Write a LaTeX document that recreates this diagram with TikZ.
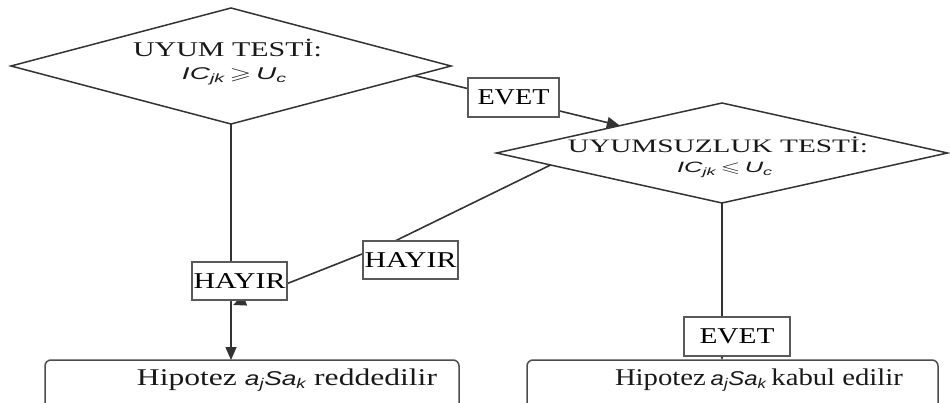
\documentclass[tikz,border=0pt]{standalone}
\usepackage{fontspec}
\usepackage{amssymb}
\usepackage{graphicx}
\setmainfont{Liberation Serif}
\setsansfont{Liberation Sans}
\usetikzlibrary{shapes.geometric,arrows.meta}
\newcommand\fitw[2]{\resizebox{#1}{\height}{#2}}
\newcommand\formtxt[2]{{\sffamily\itshape\fontsize{#1}{#1}\selectfont IC\textsubscript{jk}\,$#2$\,U\textsubscript{c}}}
\newcommand\ajsak{{\sffamily\itshape\fontsize{20}{24}\selectfont a\textsubscript{j}Sa\textsubscript{k}}}
\begin{document}
\begin{tikzpicture}[x=1pt,y=-1pt,
  ln/.style={draw=black!80, line width=1.6pt},
  arr/.style={ln, -{Triangle[length=13pt,width=11pt]}},
  dia/.style={diamond, draw=black!80, line width=1.5pt, inner sep=0pt, outer sep=0pt},
  lab/.style={rectangle, draw=black!65, line width=1.6pt, fill=white, inner sep=0pt, outer sep=0pt},
  res/.style={rectangle, rounded corners=6pt, draw=black!70, line width=1.5pt, inner sep=0pt, outer sep=0pt},
  txt/.style={anchor=base, inner sep=0pt, text=black!90}]
\useasboundingbox (0,0) rectangle (950,403);
\clip (0,0) rectangle (950,403);
% decisions
\node[dia, minimum width=440pt, minimum height=116pt] (d1) at (231,66) {};
\node[dia, minimum width=451pt, minimum height=100pt] (d2) at (722,153) {};
% results
\node[res, minimum width=414pt, minimum height=80pt, anchor=north west] (r1) at (45,360) {};
\node[res, minimum width=411pt, minimum height=80pt, anchor=north west] (r2) at (527,360) {};
% helper coordinates
\coordinate (hb) at (395,241);
\coordinate (m) at (233,305);
% connectors
\draw[arr] (d1.south) -- (d1.south |- r1.north);
\draw[arr] (d1.-3.6) -- (d2.165);
\draw[arr] (d2.184.5) -- (hb) -- (m);
\draw[arr] (d2.south) -- (d2.south |- r2.north);
% label boxes
\node[lab, minimum width=91pt, minimum height=39pt] (e1) at (513.5,97.5) {\fitw{72pt}{\fontsize{22.6}{24}\selectfont EVET}};
\node[lab, minimum width=95pt, minimum height=38pt] (h1) at (239.5,281) {\fitw{92pt}{\fontsize{22.6}{24}\selectfont HAYIR}};
\node[lab, minimum width=95pt, minimum height=38pt] (h2) at (410.5,260) {\fitw{92pt}{\fontsize{22.6}{24}\selectfont HAYIR}};
\node[lab, minimum width=106pt, minimum height=39pt] (e2) at (737,336.5) {\fitw{75pt}{\fontsize{22.6}{24}\selectfont EVET}};
% texts
\node[txt] (t1) at (227.5,57) {\fitw{189pt}{\fontsize{21}{24}\selectfont UYUM TESTİ:}};
\node[txt] (f1) at (234.5,80) {\fitw{105pt}{\formtxt{17}{\geqslant}}};
\node[txt] (t2) at (718,153) {\fitw{300pt}{\fontsize{19}{22}\selectfont UYUMSUZLUK TESTİ:}};
\node[txt] (f2) at (725,173) {\fitw{96pt}{\formtxt{15}{\leqslant}}};
\node[txt] (x1) at (287,385) {\fitw{300pt}{\fontsize{24}{28}\selectfont Hipotez \ajsak\ reddedilir}};
\node[txt] (x2) at (759,385) {\fitw{288pt}{\fontsize{24}{28}\selectfont Hipotez\,\ajsak\,kabul edilir}};
\end{tikzpicture}
\end{document}
